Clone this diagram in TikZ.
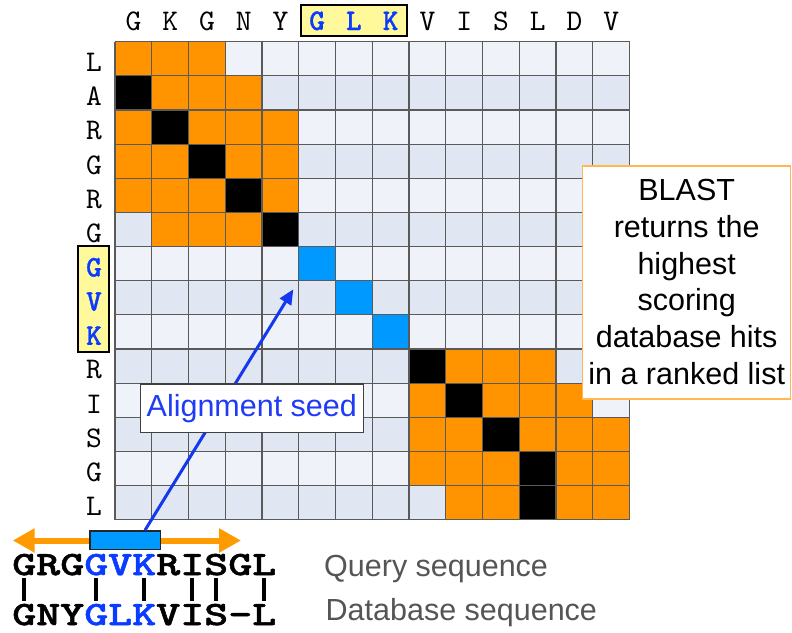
\documentclass[tikz,border=0pt]{standalone}
\usepackage{fontspec}
\setmainfont{Liberation Sans}
\newfontfamily\labelfont{lmmono10-regular.otf}
\newfontfamily\labelboldfont[FakeBold=1]{lmmonolt10-bold.otf}
\newfontfamily\seqfont[FakeStretch=1.345,FakeBold=1.6]{lmmonolt10-bold.otf}
\usetikzlibrary{arrows.meta}
\definecolor{co}{HTML}{FF9300}
\definecolor{ck}{HTML}{000000}
\definecolor{cb}{HTML}{0099FF}
\definecolor{ce}{HTML}{EFF3F9}
\definecolor{cd}{HTML}{E0E7F2}
\definecolor{gridgray}{HTML}{5A5A5A}
\definecolor{hiyellow}{HTML}{FFF99C}
\definecolor{seqblue}{HTML}{0A3CFF}
\definecolor{arrowblue}{HTML}{1438F0}
\definecolor{seedtext}{HTML}{1F3BF5}
\definecolor{arroworange}{HTML}{FF9A00}
\definecolor{boxorange}{HTML}{FFB653}
\definecolor{labelgray}{HTML}{555555}
\tikzset{
  gridline/.style={draw=gridgray, line width=1.2pt},
  monolabel/.style={anchor=base, inner sep=0pt, font=\labelfont\fontsize{30}{30}\selectfont},
  hilabel/.style={monolabel, text=seqblue, font=\labelboldfont\fontsize{30}{30}\selectfont},
  hibox/.style={draw=black, line width=1.8pt, fill=hiyellow, inner sep=0pt},
  sanstext/.style={font=\fontsize{30.5}{36.8}\selectfont},
  seqtext/.style={anchor=base west, inner sep=0pt, font=\seqfont\fontsize{34}{34}\selectfont},
  matchbar/.style={draw=black, line width=3.5pt},
}
\begin{document}
\begin{tikzpicture}[x=1pt,y=-1pt]
\useasboundingbox (0,0) rectangle (792,632);
\def\gx{115}\def\gw{36.75}\def\gy{41.7}\def\gh{34.14}
% cells
\foreach \r/\row in {
  0/{o,o,o,e,e,e,e,e,e,e,e,e,e,e},
  1/{k,o,o,o,d,d,d,d,d,d,d,d,d,d},
  2/{o,k,o,o,o,e,e,e,e,e,e,e,e,e},
  3/{o,o,k,o,o,d,d,d,d,d,d,d,d,d},
  4/{o,o,o,k,o,e,e,e,e,e,e,e,e,e},
  5/{d,o,o,o,k,d,d,d,d,d,d,d,d,d},
  6/{e,e,e,e,e,b,e,e,e,e,e,e,e,e},
  7/{d,d,d,d,d,d,b,d,d,d,d,d,d,d},
  8/{e,e,e,e,e,e,e,b,e,e,e,e,e,e},
  9/{d,d,d,d,d,d,d,d,k,o,o,o,d,d},
  10/{e,e,e,e,e,e,e,e,o,k,o,o,o,e},
  11/{d,d,d,d,d,d,d,d,o,o,k,o,o,o},
  12/{e,e,e,e,e,e,e,e,o,o,o,k,o,o},
  13/{d,d,d,d,d,d,d,d,d,o,o,k,o,o}}{
  \foreach \t [count=\c from 0] in \row {
    \fill[fill=c\t] (\gx+\c*\gw,\gy+\r*\gh) rectangle ++(\gw,\gh);
  }
}
% grid lines
\foreach \i in {0,...,14}{
  \draw[gridline] (\gx+\i*\gw,\gy) -- (\gx+\i*\gw,\gy+14*\gh);
  \draw[gridline] (\gx,\gy+\i*\gh) -- (\gx+14*\gw,\gy+\i*\gh);
}
% highlight boxes
\node[hibox, minimum width=106.3pt, minimum height=31.3pt] (topbox) at (353.85,20.35) {};
\node[hibox, minimum width=31pt, minimum height=106pt] (leftbox) at (93.5,299) {};
% top labels
\foreach \c/\l in {0/G,1/K,2/G,3/N,4/Y,8/V,9/I,10/S,11/L,12/D,13/V}
  \node[monolabel] (top\c) at (\gx+\c*\gw+0.5*\gw,30) {\l};
\foreach \c/\l in {5/G,6/L,7/K}
  \node[hilabel] (top\c) at (\gx+\c*\gw+0.5*\gw,30) {\l};
% left labels
\foreach \r/\l in {0/L,1/A,2/R,3/G,4/R,5/G,9/R,10/I,11/S,12/G,13/L}
  \node[monolabel] (left\r) at (94,\gy+\r*\gh+30) {\l};
\foreach \r/\l in {6/G,7/V,8/K}
  \node[hilabel] (left\r) at (94,\gy+\r*\gh+30) {\l};
% orange extension arrow
\coordinate (extleft) at (12.7,540.5);
\coordinate (extright) at (241,540.5);
\draw[draw=arroworange, line width=6pt, {Triangle[length=22pt,width=23pt]}-{Triangle[length=22pt,width=23pt]}] (extleft) -- (extright);
% seed bar
\node[draw=black!85, line width=1.5pt, fill=cb, minimum width=70.3pt, minimum height=18.6pt, inner sep=0pt] (seedbar) at (125.15,540.2) {};
% seed arrow
\coordinate (seedtip) at (293.3,289.3);
\draw[draw=arrowblue, line width=3pt, -{Triangle[length=15pt,width=13pt]}] ([xshift=-16pt]seedbar.north east) -- (seedtip);
% seed label
\node[sanstext, draw=black!75, line width=1.3pt, fill=white, text=seedtext, minimum width=223pt, minimum height=48.3pt, inner sep=0pt, text height=24pt, text depth=6.9pt] (seedbox) at (251.8,408.15) {Alignment seed};
% BLAST box
\node[draw=boxorange, line width=1.5pt, fill=white, minimum width=208pt, minimum height=233pt, inner sep=0pt] (blastbox) at (686.7,282.5) {};
\node[sanstext, anchor=base, align=center, inner sep=0pt] (blasttext) at (686.7,384.5) {BLAST\\returns the\\highest\\scoring\\database hits\\in a ranked list};
% sequences
\node[seqtext] (queryseq) at (12,575) {GRG\textcolor{seqblue}{GVK}RISGL};
\node[seqtext] (dbseq) at (12,625) {GNY\textcolor{seqblue}{GLK}VIS-L};
\foreach \i in {0,3,5,7,8,10}
  \draw[matchbar] (24+\i*24,578) -- (24+\i*24,601);
\node[sanstext, anchor=base west, inner sep=0pt, text=labelgray] (querylabel) at (324,576.7) {Query sequence};
\node[sanstext, anchor=base west, inner sep=0pt, text=labelgray] (dblabel) at (325.5,620.7) {Database sequence};
\end{tikzpicture}
\end{document}
